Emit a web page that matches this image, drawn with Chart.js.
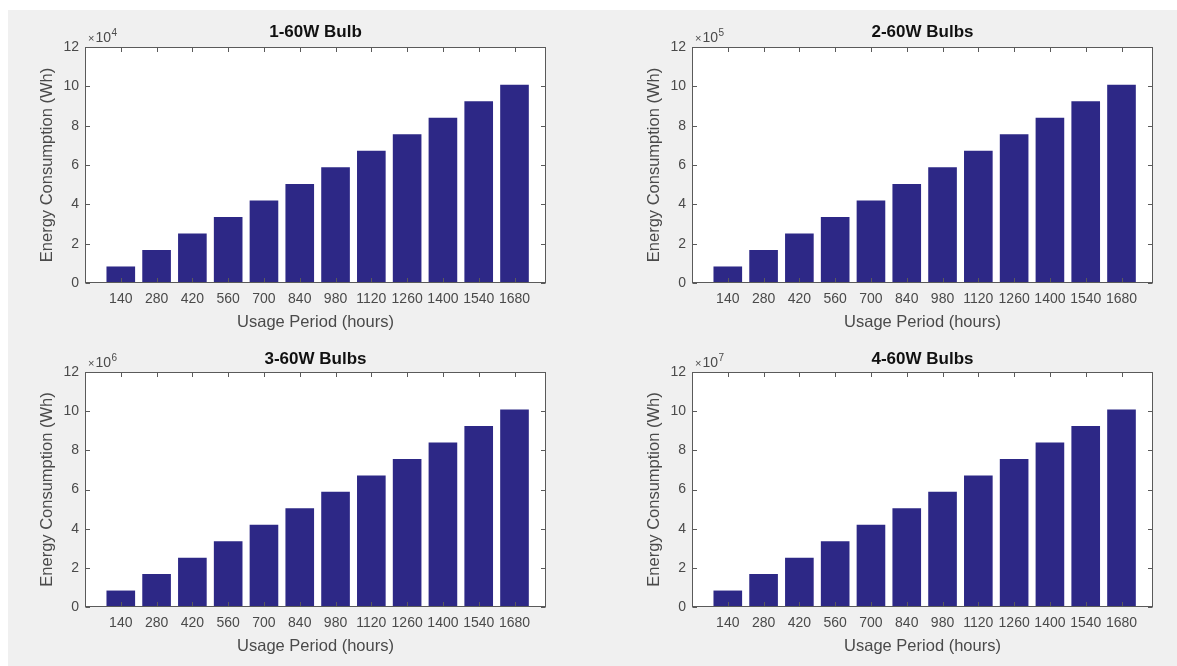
<!DOCTYPE html>
<html>
<head>
<meta charset="utf-8">
<title>Energy consumption of 60W bulbs</title>
<script src="https://cdn.jsdelivr.net/npm/chart.js@4.4.0/dist/chart.umd.min.js"></script>
<style>
  html, body { margin: 0; padding: 0; background: #ffffff; }
  body { position: relative; width: 1177px; height: 666px; overflow: hidden; }
  #figure { position: absolute; left: 8px; top: 10px; width: 1169px; height: 656px; background: #f0f0f0; }
  canvas { position: absolute; }
</style>
</head>
<body>
<div id="figure"></div>
<script>
// Usage periods (hours) shown on every x axis
const hoursLabels = ['140', '280', '420', '560', '700', '840', '980', '1120', '1260', '1400', '1540', '1680'];

// Energy consumption (Wh) for each panel
const oneBulbWh    = [8400, 16800, 25200, 33600, 42000, 50400, 58800, 67200, 75600, 84000, 92400, 100800];
const twoBulbsWh   = [84000, 168000, 252000, 336000, 420000, 504000, 588000, 672000, 756000, 840000, 924000, 1008000];
const threeBulbsWh = [840000, 1680000, 2520000, 3360000, 4200000, 5040000, 5880000, 6720000, 7560000, 8400000, 9240000, 10080000];
const fourBulbsWh  = [8400000, 16800000, 25200000, 33600000, 42000000, 50400000, 58800000, 67200000, 75600000, 84000000, 92400000, 100800000];

const panelTitles = ['1-60W Bulb', '2-60W Bulbs', '3-60W Bulbs', '4-60W Bulbs'];
const panelExponents = [4, 5, 6, 7];
const yTickMantissas = [0, 2, 4, 6, 8, 10, 12];
const yAxisLabel = 'Energy Consumption (Wh)';
const xAxisLabel = 'Usage Period (hours)';

const FONT = '"Liberation Sans", Arial, Helvetica, sans-serif';
const TEXT_COLOR = '#4a4a4a';
const AXIS_COLOR = '#5a5a5a';
const BAR_COLOR = '#2d2886';

// x range of every axes box (bar positions run 1..12)
const X_MIN = 0, X_MAX = 12.88;

// space reserved around each axes box inside its canvas
const AX_L = 77, AX_T = 37, AX_B = 50, PAD_R = 24;
const TITLE_SIZE = 17, TITLE_LH = TITLE_SIZE * 1.2;
const TICK_SIZE = 14, LABEL_SIZE = 16.5, LABEL_LH = LABEL_SIZE * 1.2;

// axes boxes in page pixels
const panels = [
  { values: oneBulbWh,    left: 85,  top: 47,  right: 546,  bottom: 283, titleGap: 15 },
  { values: twoBulbsWh,   left: 692, top: 47,  right: 1153, bottom: 283, titleGap: 15 },
  { values: threeBulbsWh, left: 85,  top: 372, right: 546,  bottom: 607, titleGap: 13 },
  { values: fourBulbsWh,  left: 692, top: 372, right: 1153, bottom: 607, titleGap: 13 }
];

// white axes background, box outline, inward tick marks and the ×10^n multiplier
const axesBox = {
  id: 'axesBox',
  beforeDatasetsDraw(chart) {
    const { ctx, chartArea: a } = chart;
    ctx.save();
    ctx.fillStyle = '#ffffff';
    ctx.fillRect(a.left, a.top, a.right - a.left, a.bottom - a.top);
    ctx.restore();
  },
  afterDatasetsDraw(chart, args, opts) {
    const { ctx, chartArea: a, scales } = chart;
    const L = a.left + 0.5, R = a.right - 0.5, T = a.top + 0.5, B = a.bottom - 0.5;
    const len = 4.5;
    ctx.save();
    ctx.strokeStyle = AXIS_COLOR;
    ctx.lineWidth = 1;
    ctx.beginPath();
    scales.x.ticks.forEach(t => {
      const px = Math.round(scales.x.getPixelForValue(t.value)) + 0.5;
      ctx.moveTo(px, B); ctx.lineTo(px, B - len);
      ctx.moveTo(px, T); ctx.lineTo(px, T + len);
    });
    scales.y.ticks.forEach(t => {
      const py = Math.round(scales.y.getPixelForValue(t.value)) + 0.5;
      ctx.moveTo(L, py); ctx.lineTo(L + len, py);
      ctx.moveTo(R, py); ctx.lineTo(R - len, py);
    });
    ctx.stroke();
    ctx.strokeRect(L, T, R - L, B - T);

    // exponent label above the y axis
    ctx.fillStyle = TEXT_COLOR;
    ctx.textBaseline = 'alphabetic';
    ctx.textAlign = 'left';
    ctx.font = '11px ' + FONT;
    const baseX = a.left + 3, baseY = a.top - 5;
    ctx.fillText('\u00d7', baseX, baseY);
    let x = baseX + ctx.measureText('\u00d7').width + 1;
    ctx.font = '14px ' + FONT;
    ctx.fillText('10', x, baseY);
    x += ctx.measureText('10').width + 0.5;
    ctx.font = '10px ' + FONT;
    ctx.fillText(String(opts.exponent), x, baseY - 6);
    ctx.restore();
  }
};

panels.forEach((p, idx) => {
  const W = (p.right - p.left) + AX_L + PAD_R;
  const H = (p.bottom - p.top) + AX_T + AX_B;
  const cv = document.createElement('canvas');
  cv.width = W; cv.height = H;
  cv.style.left = (p.left - AX_L) + 'px';
  cv.style.top = (p.top - AX_T) + 'px';
  cv.style.width = W + 'px';
  cv.style.height = H + 'px';
  document.body.appendChild(cv);

  const exponent = panelExponents[idx];
  const unit = Math.pow(10, exponent);
  const titlePadTop = (AX_T - p.titleGap) - TITLE_LH / 2;
  const titlePadBottom = AX_T - titlePadTop - TITLE_LH;

  new Chart(cv, {
    type: 'bar',
    data: {
      datasets: [{
        data: p.values.map((v, i) => ({ x: i + 1, y: v })),
        backgroundColor: BAR_COLOR,
        borderWidth: 0,
        barPercentage: 0.8,
        categoryPercentage: 1
      }]
    },
    options: {
      responsive: false,
      animation: false,
      devicePixelRatio: 1,
      layout: { padding: { left: 0, right: PAD_R, top: 0, bottom: 0 } },
      plugins: {
        legend: { display: false },
        tooltip: { enabled: false },
        title: {
          display: true,
          text: panelTitles[idx],
          fullSize: false,
          color: '#111111',
          font: { family: FONT, size: TITLE_SIZE, weight: 'bold', lineHeight: 1.2 },
          padding: { top: titlePadTop, bottom: titlePadBottom }
        },
        axesBox: { exponent: exponent }
      },
      scales: {
        x: {
          type: 'linear',
          offset: false,
          min: X_MIN,
          max: X_MAX,
          grid: { display: false, drawTicks: false, offset: false },
          border: { display: false },
          afterBuildTicks: s => { s.ticks = hoursLabels.map((_, i) => ({ value: i + 1 })); },
          afterFit: s => { s.height = AX_B; },
          ticks: {
            autoSkip: false,
            maxRotation: 0,
            padding: 8,
            color: TEXT_COLOR,
            font: { family: FONT, size: TICK_SIZE },
            callback: v => hoursLabels[v - 1]
          },
          title: {
            display: true,
            text: xAxisLabel,
            color: TEXT_COLOR,
            font: { family: FONT, size: LABEL_SIZE, lineHeight: 1.2 },
            padding: { top: 0, bottom: 1 }
          }
        },
        y: {
          min: 0,
          max: yTickMantissas[yTickMantissas.length - 1] * unit,
          grid: { display: false, drawTicks: false },
          border: { display: false },
          afterBuildTicks: s => { s.ticks = yTickMantissas.map(m => ({ value: m * unit })); },
          afterFit: s => { s.width = AX_L; },
          ticks: {
            padding: 6,
            color: TEXT_COLOR,
            font: { family: FONT, size: TICK_SIZE },
            callback: v => String(Math.round(v / unit))
          },
          title: {
            display: true,
            text: yAxisLabel,
            color: TEXT_COLOR,
            font: { family: FONT, size: LABEL_SIZE, lineHeight: 1.2 },
            padding: { top: 39.5 - LABEL_LH / 2, bottom: 0 }
          }
        }
      }
    },
    plugins: [axesBox]
  });
});
</script>
</body>
</html>
